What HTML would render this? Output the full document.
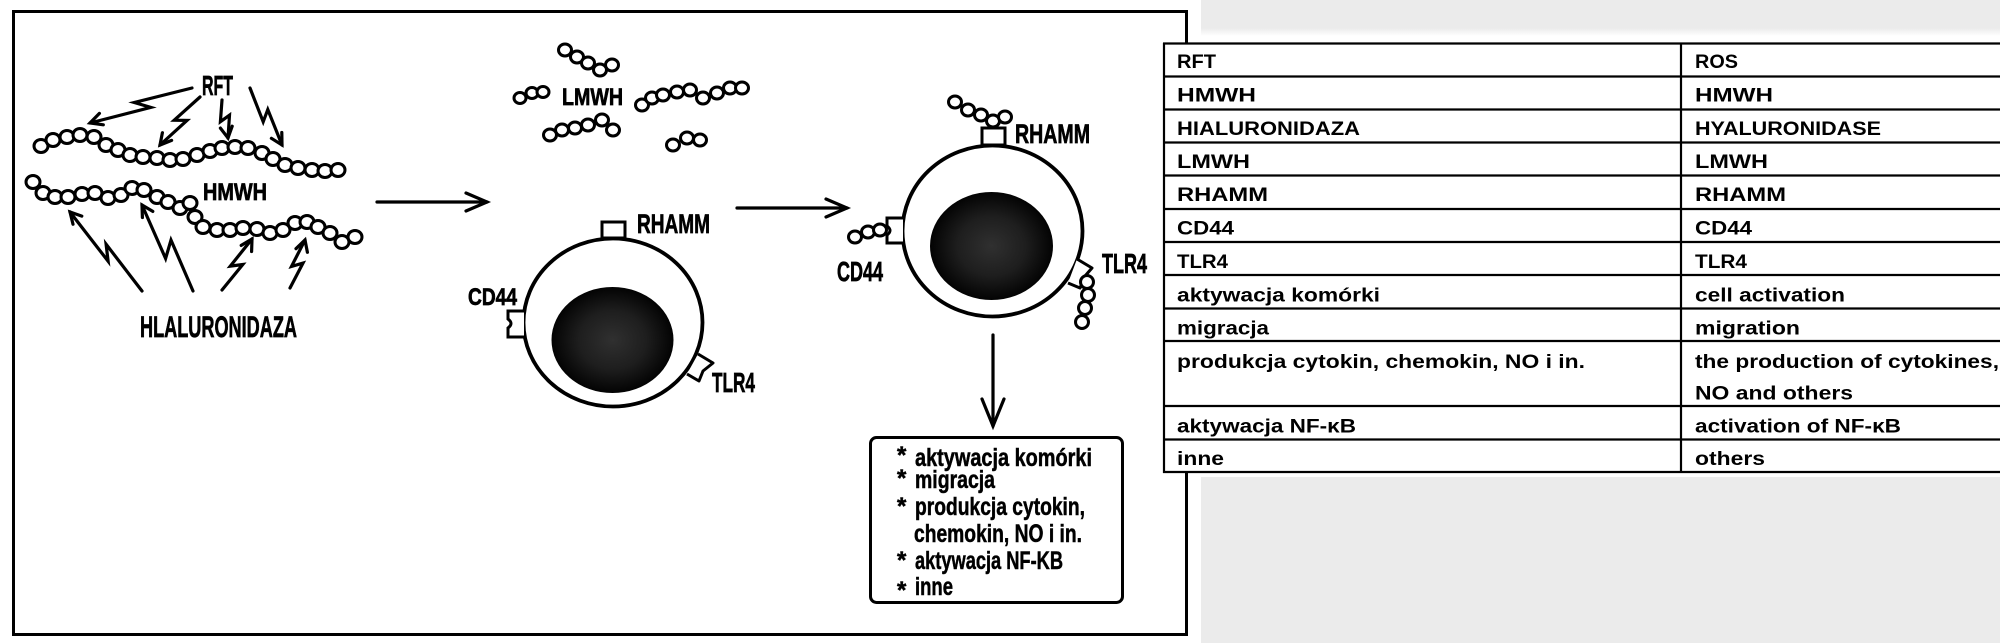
<!DOCTYPE html>
<html><head><meta charset="utf-8">
<style>
html,body{margin:0;padding:0;background:#fff;}
body{width:2000px;height:643px;overflow:hidden;}
svg{display:block;}
.lbl{font-family:"Liberation Sans",Arial,sans-serif;font-weight:bold;fill:#000;stroke:#000;stroke-width:0.7;}
.tb{font-family:"Liberation Sans",Arial,sans-serif;font-weight:bold;font-size:19px;fill:#000;}
.bx{font-family:"Liberation Sans",Arial,sans-serif;font-weight:bold;font-size:25px;fill:#000;stroke:#000;stroke-width:0.5;}
.bd{fill:#fff;stroke:#000;stroke-width:3;}
.ar{fill:none;stroke:#000;stroke-width:3.2;stroke-linejoin:miter;stroke-linecap:round;}
</style></head>
<body>
<svg width="2000" height="643" viewBox="0 0 2000 643" xmlns="http://www.w3.org/2000/svg">
<defs>
<radialGradient id="nuc" cx="50%" cy="50%" r="50%">
<stop offset="0" stop-color="#303030"/>
<stop offset="0.55" stop-color="#1e1e1e"/>
<stop offset="1" stop-color="#030303"/>
</radialGradient>
<linearGradient id="topfade" x1="0" y1="0" x2="0" y2="1">
<stop offset="0" stop-color="#ebebeb"/>
<stop offset="1" stop-color="#fff"/>
</linearGradient>
</defs>

<rect x="1201" y="0" width="799" height="28" fill="#ebebeb"/>
<rect x="1201" y="28" width="799" height="8" fill="url(#topfade)"/>
<rect x="1201" y="477" width="799" height="166" fill="#ebebeb"/>

<rect x="13.5" y="11.5" width="1173" height="623" fill="none" stroke="#000" stroke-width="3"/>

<g class="bd">
<ellipse cx="41" cy="146" rx="7" ry="6.5"/><ellipse cx="53" cy="140" rx="7" ry="6.5"/><ellipse cx="67" cy="137" rx="7" ry="6.5"/><ellipse cx="80" cy="135" rx="7" ry="6.5"/><ellipse cx="94" cy="137" rx="7" ry="6.5"/><ellipse cx="106" cy="145" rx="7" ry="6.5"/><ellipse cx="118" cy="150" rx="7" ry="6.5"/><ellipse cx="130" cy="155" rx="7" ry="6.5"/><ellipse cx="143" cy="157" rx="7" ry="6.5"/><ellipse cx="157" cy="158" rx="7" ry="6.5"/><ellipse cx="170" cy="160" rx="7" ry="6.5"/><ellipse cx="183" cy="159" rx="7" ry="6.5"/><ellipse cx="197" cy="155" rx="7" ry="6.5"/><ellipse cx="210" cy="151" rx="7" ry="6.5"/><ellipse cx="222" cy="148" rx="7" ry="6.5"/><ellipse cx="235" cy="147" rx="7" ry="6.5"/><ellipse cx="248" cy="148" rx="7" ry="6.5"/><ellipse cx="262" cy="153" rx="7" ry="6.5"/><ellipse cx="273" cy="159" rx="7" ry="6.5"/><ellipse cx="285" cy="165" rx="7" ry="6.5"/><ellipse cx="298" cy="168" rx="7" ry="6.5"/><ellipse cx="312" cy="170" rx="7" ry="6.5"/><ellipse cx="325" cy="171" rx="7" ry="6.5"/><ellipse cx="338" cy="170" rx="7" ry="6.5"/>
</g>
<g class="bd">
<ellipse cx="33" cy="182" rx="7" ry="6.5"/><ellipse cx="43" cy="193" rx="7" ry="6.5"/><ellipse cx="55" cy="197" rx="7" ry="6.5"/><ellipse cx="68" cy="197" rx="7" ry="6.5"/><ellipse cx="82" cy="194" rx="7" ry="6.5"/><ellipse cx="95" cy="193" rx="7" ry="6.5"/><ellipse cx="108" cy="198" rx="7" ry="6.5"/><ellipse cx="121" cy="195" rx="7" ry="6.5"/><ellipse cx="132" cy="188" rx="7" ry="6.5"/><ellipse cx="144" cy="190" rx="7" ry="6.5"/><ellipse cx="157" cy="197" rx="7" ry="6.5"/><ellipse cx="168" cy="202" rx="7" ry="6.5"/><ellipse cx="180" cy="208" rx="7" ry="6.5"/><ellipse cx="190" cy="203" rx="7" ry="6.5"/><ellipse cx="195" cy="217" rx="7" ry="6.5"/><ellipse cx="203" cy="227" rx="7" ry="6.5"/><ellipse cx="217" cy="230" rx="7" ry="6.5"/><ellipse cx="230" cy="230" rx="7" ry="6.5"/><ellipse cx="243" cy="228" rx="7" ry="6.5"/><ellipse cx="257" cy="229" rx="7" ry="6.5"/><ellipse cx="270" cy="233" rx="7" ry="6.5"/><ellipse cx="283" cy="230" rx="7" ry="6.5"/><ellipse cx="295" cy="223" rx="7" ry="6.5"/><ellipse cx="307" cy="222" rx="7" ry="6.5"/><ellipse cx="318" cy="227" rx="7" ry="6.5"/><ellipse cx="330" cy="233" rx="7" ry="6.5"/><ellipse cx="342" cy="242" rx="7" ry="6.5"/><ellipse cx="355" cy="237" rx="7" ry="6.5"/>
</g>

<g class="ar">
<polyline points="192,88 134.3,102.5 150.8,107.4 90,123"/><polyline points="99.4,113.4 90,123 103.3,124.8"/>
<polyline points="200,97 174.2,120.2 187,120.4 160,145"/><polyline points="162.4,132.7 160,145 171.6,140.4"/>
<polyline points="222,100 220.4,121.7 229.5,115.2 228,138"/><polyline points="220.4,128.1 228,138 232.2,126.2"/>
<polyline points="250,88 263.2,121.8 267.8,109.5 282,145"/><polyline points="271.4,138.3 282,145 281.8,132.5"/>
<polyline points="142,291 106.1,244.2 108.1,261.2 70,212"/><polyline points="81.8,216.1 70,212 73,224.2"/>
<polyline points="193,291 171,240.1 165.6,258.5 142,205"/><polyline points="152.8,211.4 142,205 142.4,217.5"/>
<polyline points="222,290 242.8,264.5 230.3,266.1 252,239"/><polyline points="251.6,251.5 252,239 241.2,245.4"/>
<polyline points="290,288 303,263.1 291.5,266.4 305,240"/><polyline points="307.4,252.3 305,240 296,248.7"/>
</g>

<text class="lbl" x="202" y="95" font-size="28" textLength="31" lengthAdjust="spacingAndGlyphs">RFT</text>
<text class="lbl" x="203" y="200" font-size="24" textLength="64" lengthAdjust="spacingAndGlyphs">HMWH</text>
<text class="lbl" x="140" y="337" font-size="30" textLength="157" lengthAdjust="spacingAndGlyphs">HLALURONIDAZA</text>

<g class="ar">
<line x1="377" y1="202" x2="487" y2="202"/>
<polyline points="466,193 487,202 466,211"/>
</g>

<g class="bd">
<ellipse cx="565" cy="50" rx="6.5" ry="6"/><ellipse cx="577" cy="57" rx="6.5" ry="6"/><ellipse cx="588" cy="63" rx="6.5" ry="6"/><ellipse cx="600" cy="70" rx="6.5" ry="6"/><ellipse cx="612" cy="65" rx="6.5" ry="6"/>
<ellipse cx="520" cy="98" rx="6" ry="5.5"/><ellipse cx="532" cy="93" rx="6" ry="5.5"/><ellipse cx="543" cy="92" rx="6" ry="5.5"/>
<ellipse cx="642" cy="105" rx="6.5" ry="6"/><ellipse cx="652" cy="98" rx="6.5" ry="6"/><ellipse cx="663" cy="95" rx="6.5" ry="6"/><ellipse cx="677" cy="92" rx="6.5" ry="6"/><ellipse cx="690" cy="90" rx="6.5" ry="6"/><ellipse cx="703" cy="98" rx="6.5" ry="6"/><ellipse cx="717" cy="93" rx="6.5" ry="6"/><ellipse cx="730" cy="88" rx="6.5" ry="6"/><ellipse cx="742" cy="88" rx="6.5" ry="6"/>
<ellipse cx="550" cy="135" rx="6.5" ry="6"/><ellipse cx="562" cy="130" rx="6.5" ry="6"/><ellipse cx="575" cy="128" rx="6.5" ry="6"/><ellipse cx="588" cy="125" rx="6.5" ry="6"/><ellipse cx="602" cy="120" rx="6.5" ry="6"/><ellipse cx="613" cy="130" rx="6.5" ry="6"/>
<ellipse cx="673" cy="145" rx="6.5" ry="6"/><ellipse cx="687" cy="138" rx="6.5" ry="6"/><ellipse cx="700" cy="140" rx="6.5" ry="6"/>
</g>
<text class="lbl" x="562" y="105" font-size="24" textLength="61" lengthAdjust="spacingAndGlyphs">LMWH</text>

<ellipse cx="613" cy="322.5" rx="89.5" ry="84" fill="#fff" stroke="#000" stroke-width="3.8"/>
<ellipse cx="612.5" cy="340" rx="61" ry="53" fill="url(#nuc)"/>
<rect x="602" y="222" width="23" height="16" fill="#fff" stroke="#000" stroke-width="3"/>
<path d="M524,311 L508,311 L508,319 Q514,323.5 508,328 L508,337 L524,337" fill="#fff" stroke="#000" stroke-width="3"/>
<path d="M698,354 L713,363 L703,371 L699,381 L687,374" fill="#fff" stroke="#000" stroke-width="3" stroke-linejoin="round"/>
<text class="lbl" x="637" y="233" font-size="27" textLength="73" lengthAdjust="spacingAndGlyphs">RHAMM</text>
<text class="lbl" x="468" y="305" font-size="24" textLength="49" lengthAdjust="spacingAndGlyphs">CD44</text>
<text class="lbl" x="712" y="392" font-size="28" textLength="43" lengthAdjust="spacingAndGlyphs">TLR4</text>

<g class="ar">
<line x1="737" y1="208" x2="847" y2="208"/>
<polyline points="826,199 847,208 826,217"/>
</g>

<ellipse cx="992.5" cy="231" rx="90" ry="85.5" fill="#fff" stroke="#000" stroke-width="3.8"/>
<ellipse cx="991.5" cy="246" rx="61.5" ry="54" fill="url(#nuc)"/>
<rect x="982" y="128" width="23" height="17" fill="#fff" stroke="#000" stroke-width="3"/>
<path d="M903,218 L887,218 L887,226 Q893,230.5 887,235 L887,243 L903,243" fill="#fff" stroke="#000" stroke-width="3"/>
<path d="M1077,259 L1092,268 L1085,276 L1080,288 L1068,283" fill="#fff" stroke="#000" stroke-width="3" stroke-linejoin="round"/>
<g class="bd">
<ellipse cx="955" cy="102" rx="6.5" ry="6"/><ellipse cx="968" cy="110" rx="6.5" ry="6"/><ellipse cx="981" cy="115" rx="6.5" ry="6"/><ellipse cx="993" cy="121" rx="6.5" ry="6"/><ellipse cx="1005" cy="117" rx="6.5" ry="6"/>
<ellipse cx="855" cy="237" rx="6.5" ry="6"/><ellipse cx="868" cy="232" rx="6.5" ry="6"/><ellipse cx="880" cy="230" rx="6.5" ry="6"/>
<ellipse cx="1087" cy="282" rx="6.5" ry="6.5"/><ellipse cx="1088" cy="295" rx="6.5" ry="6.5"/><ellipse cx="1085" cy="308" rx="6.5" ry="6.5"/><ellipse cx="1082" cy="322" rx="6.5" ry="6.5"/>
</g>
<text class="lbl" x="1015" y="143" font-size="27" textLength="75" lengthAdjust="spacingAndGlyphs">RHAMM</text>
<text class="lbl" x="837" y="281" font-size="28" textLength="46" lengthAdjust="spacingAndGlyphs">CD44</text>
<text class="lbl" x="1102" y="273" font-size="28" textLength="45" lengthAdjust="spacingAndGlyphs">TLR4</text>

<g class="ar">
<line x1="993" y1="335" x2="993" y2="426"/>
<polyline points="982,399 993,426 1004,399"/>
</g>

<rect x="870.5" y="437.5" width="252" height="165" rx="6" fill="#fff" stroke="#000" stroke-width="3"/>
<g class="bx">
<text x="897" y="463" font-size="24">*</text>
<text x="915" y="466" textLength="177" lengthAdjust="spacingAndGlyphs">aktywacja komórki</text>
<text x="897" y="486" font-size="24">*</text>
<text x="915" y="488" textLength="80" lengthAdjust="spacingAndGlyphs">migracja</text>
<text x="897" y="514" font-size="24">*</text>
<text x="915" y="515" textLength="170" lengthAdjust="spacingAndGlyphs">produkcja cytokin,</text>
<text x="914" y="542" textLength="168" lengthAdjust="spacingAndGlyphs">chemokin, NO i in.</text>
<text x="897" y="568" font-size="24">*</text>
<text x="915" y="569" textLength="148" lengthAdjust="spacingAndGlyphs">aktywacja NF-KB</text>
<text x="897" y="598" font-size="24">*</text>
<text x="915" y="595" textLength="38" lengthAdjust="spacingAndGlyphs">inne</text>
</g>

<rect x="1163" y="43.5" width="840" height="428.5" fill="#fff"/>
<g stroke="#000" stroke-width="2.2" fill="none">
<line x1="1163" y1="43.5" x2="2000" y2="43.5"/>
<line x1="1163" y1="76.5" x2="2000" y2="76.5"/>
<line x1="1163" y1="109.5" x2="2000" y2="109.5"/>
<line x1="1163" y1="142.5" x2="2000" y2="142.5"/>
<line x1="1163" y1="175.5" x2="2000" y2="175.5"/>
<line x1="1163" y1="209" x2="2000" y2="209"/>
<line x1="1163" y1="242" x2="2000" y2="242"/>
<line x1="1163" y1="275" x2="2000" y2="275"/>
<line x1="1163" y1="308.5" x2="2000" y2="308.5"/>
<line x1="1163" y1="341" x2="2000" y2="341"/>
<line x1="1163" y1="406" x2="2000" y2="406"/>
<line x1="1163" y1="439.5" x2="2000" y2="439.5"/>
<line x1="1163" y1="472" x2="2000" y2="472"/>
<line x1="1164" y1="43" x2="1164" y2="473"/>
<line x1="1681" y1="43" x2="1681" y2="473"/>
</g>
<g class="tb">
<text x="1177" y="68" textLength="39" lengthAdjust="spacingAndGlyphs">RFT</text>
<text x="1177" y="101.5" textLength="79" lengthAdjust="spacingAndGlyphs">HMWH</text>
<text x="1177" y="135" textLength="183" lengthAdjust="spacingAndGlyphs">HIALURONIDAZA</text>
<text x="1177" y="168" textLength="73" lengthAdjust="spacingAndGlyphs">LMWH</text>
<text x="1177" y="201" textLength="91" lengthAdjust="spacingAndGlyphs">RHAMM</text>
<text x="1177" y="234.5" textLength="57" lengthAdjust="spacingAndGlyphs">CD44</text>
<text x="1177" y="268" textLength="51" lengthAdjust="spacingAndGlyphs">TLR4</text>
<text x="1177" y="301.5" textLength="203" lengthAdjust="spacingAndGlyphs">aktywacja komórki</text>
<text x="1177" y="334.5" textLength="92" lengthAdjust="spacingAndGlyphs">migracja</text>
<text x="1177" y="368" textLength="408" lengthAdjust="spacingAndGlyphs">produkcja cytokin, chemokin, NO i in.</text>
<text x="1177" y="432.5" textLength="179" lengthAdjust="spacingAndGlyphs">aktywacja NF-κB</text>
<text x="1177" y="465" textLength="47" lengthAdjust="spacingAndGlyphs">inne</text>

<text x="1695" y="68" textLength="43" lengthAdjust="spacingAndGlyphs">ROS</text>
<text x="1695" y="101.5" textLength="78" lengthAdjust="spacingAndGlyphs">HMWH</text>
<text x="1695" y="135" textLength="186" lengthAdjust="spacingAndGlyphs">HYALURONIDASE</text>
<text x="1695" y="168" textLength="73" lengthAdjust="spacingAndGlyphs">LMWH</text>
<text x="1695" y="201" textLength="91" lengthAdjust="spacingAndGlyphs">RHAMM</text>
<text x="1695" y="234.5" textLength="57" lengthAdjust="spacingAndGlyphs">CD44</text>
<text x="1695" y="268" textLength="52" lengthAdjust="spacingAndGlyphs">TLR4</text>
<text x="1695" y="301.5" textLength="150" lengthAdjust="spacingAndGlyphs">cell activation</text>
<text x="1695" y="334.5" textLength="105" lengthAdjust="spacingAndGlyphs">migration</text>
<text x="1695" y="368" textLength="304" lengthAdjust="spacingAndGlyphs">the production of cytokines,</text>
<text x="1695" y="399.5" textLength="158" lengthAdjust="spacingAndGlyphs">NO and others</text>
<text x="1695" y="432.5" textLength="206" lengthAdjust="spacingAndGlyphs">activation of NF-κB</text>
<text x="1695" y="465" textLength="70" lengthAdjust="spacingAndGlyphs">others</text>
</g>
</svg>
</body></html>
